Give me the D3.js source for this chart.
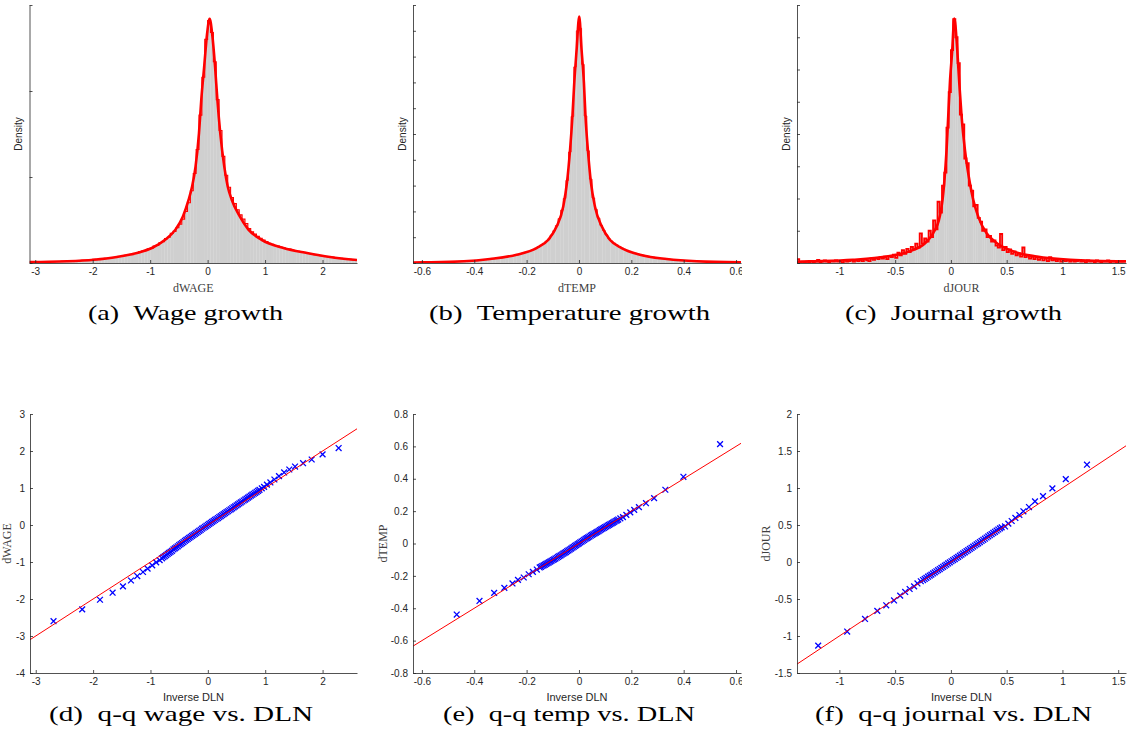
<!DOCTYPE html>
<html>
<head>
<meta charset="utf-8">
<script src="https://cdn.jsdelivr.net/npm/d3@7"></script>
<style>
body { margin: 0; background: #fff; }
.axis text { font-family: "Liberation Sans", Arial, sans-serif; font-size: 10px; fill: #262626; }
.axis path, .axis line { stroke: #262626; stroke-width: 0.8; }
</style>
</head>
<body>
<svg id="fig" width="1130" height="738"></svg>
<script>
// ---- histogram (a) wage growth, bins of 0.05 starting at -3.1
var histWageStart = -3.1, histWageBin = 0.05;
var histWage = [
  0.005, 0.006, 0.006, 0.007, 0.006, 0.007, 0.008, 0.007, 0.008, 0.009,
  0.009, 0.010, 0.010, 0.011, 0.011, 0.012, 0.013, 0.014, 0.015, 0.015,
  0.017, 0.018, 0.022, 0.020, 0.023, 0.024, 0.027, 0.027, 0.031, 0.032,
  0.036, 0.038, 0.043, 0.045, 0.049, 0.051, 0.056, 0.059, 0.066, 0.070,
  0.073, 0.083, 0.085, 0.099, 0.102, 0.118, 0.124, 0.142, 0.150, 0.172,
  0.184, 0.205, 0.225, 0.255, 0.30, 0.35, 0.42, 0.52, 0.66, 0.86,
  1.08, 1.30, 1.41, 1.34, 1.17, 0.95, 0.77, 0.62, 0.51, 0.44,
  0.38, 0.345, 0.31, 0.28, 0.255, 0.23, 0.20, 0.182, 0.168, 0.155,
  0.144, 0.133, 0.124, 0.115, 0.109, 0.102, 0.098, 0.092, 0.089, 0.084,
  0.081, 0.076, 0.073, 0.068, 0.066, 0.061, 0.059, 0.055, 0.051, 0.048,
  0.045, 0.043, 0.039, 0.038, 0.035, 0.034, 0.030, 0.029, 0.027, 0.026,
  0.023, 0.022, 0.019, 0.018
];
var fitWageX = [-3.1, -3.0, -2.45, -1.98, -1.58, -1.23, -0.97, -0.74, -0.56, -0.43, -0.33, -0.27, -0.21, -0.15, -0.11, -0.06,
  -0.01, 0.035, 0.08, 0.13, 0.17, 0.22, 0.29, 0.35, 0.42, 0.56, 0.71, 0.94, 1.32, 1.73, 2.13, 2.6];
var fitWageY = [0.005, 0.006, 0.010, 0.019, 0.035, 0.058, 0.087, 0.135, 0.194, 0.271, 0.368, 0.445, 0.56, 0.755, 0.95, 1.14,
  1.33, 1.42, 1.33, 1.14, 0.95, 0.755, 0.56, 0.445, 0.368, 0.271, 0.194, 0.135, 0.087, 0.058, 0.035, 0.017];

// ---- histogram (b) temperature growth, bins of 0.01 starting at -0.63
var histTempStart = -0.63, histTempBin = 0.01;
var histTemp = [
  0.022, 0.024, 0.025, 0.026, 0.028, 0.030, 0.032, 0.034, 0.036, 0.039,
  0.041, 0.044, 0.047, 0.050, 0.053, 0.057, 0.061, 0.065, 0.070, 0.076,
  0.082, 0.089, 0.096, 0.103, 0.110, 0.118, 0.126, 0.135, 0.145, 0.155,
  0.165, 0.178, 0.19, 0.205, 0.22, 0.24, 0.26, 0.28, 0.30, 0.32,
  0.35, 0.38, 0.41, 0.44, 0.48, 0.52, 0.57, 0.62, 0.69, 0.76,
  0.84, 0.93, 1.08, 1.25, 1.45, 1.72, 2.05, 2.5, 3.2, 4.3,
  5.68, 7.6, 9.0,
  9.1, 7.7, 5.7, 4.35, 3.25, 2.52, 2.08, 1.74, 1.46, 1.26,
  1.09, 0.94, 0.85, 0.77, 0.70, 0.63, 0.58, 0.53, 0.49, 0.45,
  0.41, 0.38, 0.35, 0.33, 0.30, 0.28, 0.26, 0.24, 0.225, 0.21,
  0.195, 0.18, 0.168, 0.157, 0.147, 0.137, 0.128, 0.12, 0.112, 0.104,
  0.097, 0.09, 0.084, 0.078, 0.072, 0.067, 0.062, 0.058, 0.054, 0.051,
  0.048, 0.045, 0.042, 0.04, 0.037, 0.035, 0.033, 0.031, 0.029, 0.027,
  0.026, 0.025
];
var fitTempX = [-0.634, -0.595, -0.44, -0.34, -0.238, -0.162, -0.117, -0.085, -0.06, -0.046, -0.034, -0.025, -0.018, -0.009,
  0.001, 0.010, 0.019, 0.025, 0.034, 0.046, 0.061, 0.087, 0.118, 0.163, 0.233, 0.335, 0.45, 0.619];
var fitTempY = [0.02, 0.026, 0.065, 0.155, 0.32, 0.58, 0.90, 1.42, 2.19, 3.10, 4.39, 5.68, 6.97, 8.26,
  9.55, 8.26, 6.97, 5.68, 4.39, 3.10, 2.19, 1.42, 0.90, 0.58, 0.32, 0.155, 0.065, 0.025];

// ---- histogram (c) journal growth, bins of 0.02 starting at -1.38
var histJourStart = -1.38, histJourBin = 0.02;
var histJour = [
  0.06, 0.01, 0.02, 0.00, 0.02, 0.01, 0.03, 0.01, 0.02, 0.05,
  0.01, 0.02, 0.04, 0.02, 0.01, 0.03, 0.02, 0.04, 0.02, 0.03,
  0.01, 0.04, 0.02, 0.03, 0.05, 0.02, 0.04, 0.03, 0.05, 0.03,
  0.06, 0.04, 0.03, 0.07, 0.05, 0.08, 0.06, 0.09, 0.07, 0.10,
  0.06, 0.11, 0.09, 0.13, 0.08, 0.16, 0.12, 0.20, 0.14, 0.22,
  0.17, 0.25, 0.21, 0.30, 0.24, 0.46, 0.30, 0.38, 0.33, 0.50,
  0.40, 0.66, 0.52, 0.95, 0.78, 1.20, 1.40, 2.10, 2.65, 3.30,
  3.78, 3.50, 3.10, 2.30, 2.15, 1.62, 1.55, 1.20, 1.12, 0.88,
  0.90, 0.70, 0.64, 0.50, 0.52, 0.40, 0.42, 0.33, 0.35, 0.27,
  0.24, 0.45, 0.20, 0.25, 0.17, 0.21, 0.14, 0.18, 0.12, 0.15,
  0.10, 0.24, 0.09, 0.12, 0.07, 0.10, 0.06, 0.09, 0.05, 0.08,
  0.04, 0.07, 0.03, 0.09, 0.04, 0.05, 0.03, 0.06, 0.02, 0.04,
  0.03, 0.05, 0.02, 0.04, 0.02, 0.03, 0.05, 0.02, 0.03, 0.01,
  0.04, 0.02, 0.03, 0.01, 0.04, 0.02, 0.01, 0.03, 0.02, 0.04,
  0.01, 0.03, 0.02, 0.01, 0.03, 0.02, 0.03
];
var fitJourX = [-1.38, -1.27, -0.88, -0.58, -0.37, -0.23, -0.16, -0.10, -0.075, -0.06, -0.039, -0.024, -0.009, 0.012,
  0.03, 0.057, 0.075, 0.096, 0.126, 0.17, 0.2, 0.245, 0.32, 0.41, 0.56, 0.77, 1.07, 1.57];
var fitJourY = [0.02, 0.026, 0.05, 0.10, 0.18, 0.31, 0.46, 0.72, 0.98, 1.24, 1.75, 2.27, 2.79, 3.30,
  3.79, 3.30, 2.79, 2.27, 1.75, 1.24, 0.98, 0.72, 0.46, 0.31, 0.18, 0.10, 0.05, 0.025];

// ---- q-q points [inverse DLN quantile, sample quantile]
var qqWage = [
  [-2.69, -2.60], [-2.19, -2.28], [-1.88, -2.02], [-1.66, -1.83], [-1.48, -1.66], [-1.34, -1.50], [-1.23, -1.38],
  [-1.13, -1.27], [-1.05, -1.18], [-0.97, -1.09], [-0.90, -1.01], [-0.84, -0.95],
  [-0.800, -0.900], [-0.775, -0.870], [-0.750, -0.843], [-0.725, -0.815], [-0.700, -0.780], [-0.675, -0.752],
  [-0.650, -0.725], [-0.625, -0.697], [-0.600, -0.660], [-0.575, -0.633], [-0.550, -0.605], [-0.525, -0.576],
  [-0.500, -0.545], [-0.475, -0.517], [-0.450, -0.489], [-0.425, -0.461], [-0.400, -0.430], [-0.375, -0.403],
  [-0.350, -0.376], [-0.325, -0.349], [-0.300, -0.320], [-0.275, -0.293], [-0.250, -0.266], [-0.225, -0.239],
  [-0.200, -0.210], [-0.175, -0.183], [-0.150, -0.156], [-0.125, -0.129], [-0.100, -0.100], [-0.075, -0.074],
  [-0.050, -0.049], [-0.025, -0.022], [0.000, 0.005], [0.025, 0.031], [0.050, 0.057], [0.075, 0.083],
  [0.100, 0.110], [0.125, 0.136], [0.150, 0.162], [0.175, 0.188], [0.200, 0.215], [0.225, 0.241],
  [0.250, 0.267], [0.275, 0.294], [0.300, 0.320], [0.325, 0.346], [0.350, 0.372], [0.375, 0.399],
  [0.400, 0.425], [0.425, 0.451], [0.450, 0.478], [0.475, 0.504], [0.500, 0.530], [0.525, 0.557],
  [0.550, 0.583], [0.575, 0.609], [0.600, 0.635], [0.625, 0.662], [0.650, 0.688], [0.675, 0.714],
  [0.700, 0.740], [0.725, 0.767], [0.750, 0.793], [0.775, 0.819], [0.800, 0.845], [0.825, 0.871],
  [0.850, 0.897], [0.875, 0.924], [0.900, 0.950],
  [0.94, 0.99], [0.98, 1.03], [1.03, 1.09], [1.09, 1.15], [1.16, 1.23], [1.24, 1.32], [1.33, 1.42],
  [1.42, 1.50], [1.52, 1.58], [1.66, 1.67], [1.81, 1.77], [2.00, 1.91], [2.28, 2.08]
];
var qqTemp = [
  [-0.467, -0.439], [-0.380, -0.355], [-0.324, -0.305], [-0.285, -0.274], [-0.254, -0.247], [-0.233, -0.225],
  [-0.211, -0.210], [-0.192, -0.190], [-0.176, -0.175], [-0.161, -0.161],
  [-0.150, -0.148], [-0.145, -0.144], [-0.140, -0.139], [-0.135, -0.135], [-0.130, -0.131], [-0.125, -0.126],
  [-0.120, -0.121], [-0.115, -0.117], [-0.110, -0.112], [-0.105, -0.107], [-0.100, -0.102], [-0.095, -0.098],
  [-0.090, -0.093], [-0.085, -0.088], [-0.080, -0.083], [-0.075, -0.078], [-0.070, -0.073], [-0.065, -0.068],
  [-0.060, -0.063], [-0.055, -0.058], [-0.050, -0.053], [-0.045, -0.047], [-0.040, -0.042], [-0.035, -0.037],
  [-0.030, -0.032], [-0.025, -0.026], [-0.020, -0.021], [-0.015, -0.015], [-0.010, -0.010], [-0.005, -0.004],
  [0.000, 0.001], [0.005, 0.007], [0.010, 0.012], [0.015, 0.017], [0.020, 0.022], [0.025, 0.028],
  [0.030, 0.033], [0.035, 0.038], [0.040, 0.043], [0.045, 0.048], [0.050, 0.053], [0.055, 0.058],
  [0.060, 0.063], [0.065, 0.067], [0.070, 0.072], [0.075, 0.077], [0.080, 0.082], [0.085, 0.087],
  [0.090, 0.092], [0.095, 0.096], [0.100, 0.101], [0.105, 0.106], [0.110, 0.111], [0.115, 0.115],
  [0.120, 0.120], [0.125, 0.124], [0.130, 0.129], [0.135, 0.134], [0.140, 0.139], [0.145, 0.143],
  [0.150, 0.148], [0.158, 0.155],
  [0.168, 0.163], [0.181, 0.177], [0.196, 0.192], [0.211, 0.208], [0.229, 0.225], [0.256, 0.249], [0.287, 0.280],
  [0.330, 0.332], [0.399, 0.412], [0.539, 0.614]
];
var qqJour = [
  [-1.19, -1.13], [-0.93, -0.94], [-0.77, -0.77], [-0.66, -0.66], [-0.58, -0.585], [-0.51, -0.52], [-0.455, -0.455],
  [-0.41, -0.405], [-0.37, -0.365], [-0.33, -0.33], [-0.30, -0.29], [-0.27, -0.26],
  [-0.250, -0.244], [-0.235, -0.229], [-0.220, -0.214], [-0.205, -0.199], [-0.190, -0.184], [-0.175, -0.170],
  [-0.160, -0.155], [-0.145, -0.140], [-0.130, -0.125], [-0.115, -0.110], [-0.100, -0.095], [-0.085, -0.080],
  [-0.070, -0.065], [-0.055, -0.050], [-0.040, -0.035], [-0.025, -0.020], [-0.010, -0.005], [0.005, 0.010],
  [0.020, 0.025], [0.035, 0.040], [0.050, 0.055], [0.065, 0.070], [0.080, 0.086], [0.095, 0.101],
  [0.110, 0.116], [0.125, 0.131], [0.140, 0.146], [0.155, 0.161], [0.170, 0.177], [0.185, 0.192],
  [0.200, 0.207], [0.215, 0.223], [0.230, 0.238], [0.245, 0.253], [0.260, 0.269], [0.275, 0.284],
  [0.290, 0.300], [0.305, 0.315], [0.320, 0.331], [0.335, 0.346], [0.350, 0.362], [0.365, 0.377],
  [0.380, 0.393], [0.395, 0.408], [0.410, 0.424], [0.425, 0.439], [0.440, 0.455], [0.455, 0.468],
  [0.485, 0.48], [0.515, 0.518], [0.545, 0.554], [0.578, 0.595], [0.614, 0.635], [0.65, 0.685], [0.70, 0.743],
  [0.754, 0.82], [0.826, 0.89], [0.91, 0.995], [1.03, 1.12], [1.22, 1.315]
];

// ---- axis ranges and ticks
var wageRange = [-3.1, 2.6], tempRange = [-0.634, 0.619], jourRange = [-1.38, 1.57];
var wageTicks = [-3, -2, -1, 0, 1, 2];
var tempTicks = [-0.6, -0.4, -0.2, 0, 0.2, 0.4, 0.6];
var jourTicks = [-1, -0.5, 0, 0.5, 1, 1.5];
var qqWageYTicks = [-4, -3, -2, -1, 0, 1, 2, 3];
var qqTempYTicks = [-0.8, -0.6, -0.4, -0.2, 0, 0.2, 0.4, 0.6, 0.8];
var qqJourYTicks = [-1.5, -1, -0.5, 0, 0.5, 1, 1.5, 2];

var svg = d3.select("#fig");
var defs = svg.append("defs");

// each sub-figure is a cropped image in the original, so clip its content
var colClip = [[0, 372], [372, 742], [752, 1130]];
colClip.forEach(function(c, i) {
    defs.append("clipPath").attr("id", "col" + i)
        .append("rect").attr("x", c[0]).attr("y", 0).attr("width", c[1] - c[0]).attr("height", 738);
});

function addClip(id, b) {
    defs.append("clipPath").attr("id", id)
        .append("rect")
        .attr("x", b.left).attr("y", b.top)
        .attr("width", b.right - b.left).attr("height", b.bottom - b.top);
}

function fmt(d) { return String(d); }

function drawAxes(g, b, x, y, xTicks, yTicks, showY) {
    g.append("g")
        .attr("class", "axis")
        .attr("transform", "translate(0," + b.bottom + ")")
        .call(d3.axisBottom(x).tickValues(xTicks).tickSizeInner(-3).tickSizeOuter(0).tickPadding(5).tickFormat(fmt));
    g.append("g")
        .attr("class", "axis")
        .attr("transform", "translate(" + b.left + ",0)")
        .call(d3.axisLeft(y).tickValues(yTicks).tickSizeInner(-3).tickSizeOuter(0).tickPadding(5)
            .tickFormat(showY ? fmt : function() { return ""; }));
}

function caption(text, cx, cy, w) {
    svg.append("text")
        .attr("x", cx).attr("y", cy)
        .attr("text-anchor", "middle")
        .attr("textLength", w)
        .attr("lengthAdjust", "spacingAndGlyphs")
        .style("font-family", "'Liberation Serif', 'Times New Roman', serif")
        .style("font-size", "22px")
        .style("fill", "#000")
        .text(text);
}

function drawHist(p) {
    var b = p.box;
    var x = d3.scaleLinear().domain(p.xDomain).range([b.left, b.right]);
    var y = d3.scaleLinear().domain(p.yDomain).range([b.bottom, b.top]);
    addClip(p.id, b);
    var g = svg.append("g").attr("clip-path", "url(#col" + p.col + ")");
    var plot = g.append("g").attr("clip-path", "url(#" + p.id + ")");
    var bw = x(p.start + p.bin) - x(p.start);

    plot.selectAll("rect.bar")
        .data(p.heights)
        .join("rect")
        .attr("class", "bar")
        .attr("x", function(d, i) { return x(p.start + i * p.bin); })
        .attr("width", bw + 0.2)
        .attr("y", function(d) { return y(d); })
        .attr("height", function(d) { return b.bottom - y(d); })
        .attr("fill", "#cfcfcf");

    var steps = p.heights.map(function(h, i) { return [p.start + i * p.bin, h]; });
    steps.push([p.start + p.heights.length * p.bin, p.heights[p.heights.length - 1]]);
    plot.append("path")
        .datum(steps)
        .attr("fill", "none")
        .attr("stroke", "#ff0000")
        .attr("stroke-width", p.stepWidth)
        .attr("d", d3.line().curve(d3.curveStepAfter)
            .x(function(d) { return x(d[0]); })
            .y(function(d) { return y(d[1]); }));

    var fit = p.fitX.map(function(v, i) { return [v, p.fitY[i]]; });
    plot.append("path")
        .datum(fit)
        .attr("fill", "none")
        .attr("stroke", "#ff0000")
        .attr("stroke-width", 2.6)
        .attr("stroke-linejoin", "round")
        .attr("d", d3.line().curve(d3.curveMonotoneX)
            .x(function(d) { return x(d[0]); })
            .y(function(d) { return y(d[1]); }));

    drawAxes(g, b, x, y, p.xTicks, p.yTicks, false);

    g.append("text")
        .attr("x", (b.left + b.right) / 2).attr("y", b.bottom + 29)
        .attr("text-anchor", "middle")
        .style("font-family", "'Liberation Serif', serif")
        .style("font-size", "12px")
        .style("fill", "#404040")
        .text(p.xLabel);
    g.append("text")
        .attr("transform", "translate(" + (b.left - 7.5) + "," + ((b.top + b.bottom) / 2) + ") rotate(-90)")
        .attr("text-anchor", "middle")
        .style("font-family", "'Liberation Sans', Arial, sans-serif")
        .style("font-size", "10px")
        .style("fill", "#262626")
        .text("Density");
}

function drawQQ(p) {
    var b = p.box;
    var x = d3.scaleLinear().domain(p.xDomain).range([b.left, b.right]);
    var y = d3.scaleLinear().domain(p.yDomain).range([b.bottom, b.top]);
    addClip(p.id, b);
    var g = svg.append("g").attr("clip-path", "url(#col" + p.col + ")");
    var plot = g.append("g").attr("clip-path", "url(#" + p.id + ")");

    plot.selectAll("path.mk")
        .data(p.points)
        .join("path")
        .attr("class", "mk")
        .attr("transform", function(d) { return "translate(" + x(d[0]) + "," + y(d[1]) + ")"; })
        .attr("d", "M-2.9,-2.9L2.9,2.9M-2.9,2.9L2.9,-2.9")
        .attr("stroke", "#0000ff")
        .attr("stroke-width", 1.3);

    // reference line y = x across the x range
    plot.append("line")
        .attr("x1", x(p.xDomain[0])).attr("y1", y(p.xDomain[0]))
        .attr("x2", x(p.xDomain[1])).attr("y2", y(p.xDomain[1]))
        .attr("stroke", "#ff0000")
        .attr("stroke-width", 1);

    drawAxes(g, b, x, y, p.xTicks, p.yTicks, true);

    g.append("text")
        .attr("x", (b.left + b.right) / 2).attr("y", b.bottom + 28)
        .attr("text-anchor", "middle")
        .style("font-family", "'Liberation Sans', Arial, sans-serif")
        .style("font-size", "11px")
        .style("fill", "#262626")
        .text("Inverse DLN");
    g.append("text")
        .attr("transform", "translate(" + (b.left - p.yLabelOff) + "," + ((b.top + b.bottom) / 2) + ") rotate(-90)")
        .attr("text-anchor", "middle")
        .style("font-family", "'Liberation Serif', serif")
        .style("font-size", "12px")
        .style("fill", "#404040")
        .text(p.yLabel);
}

var colL = [29.5, 413, 797], colR = [357, 741, 1126];

drawHist({ id: "ca", col: 0, box: { left: colL[0], right: colR[0], top: 5, bottom: 263 },
    heights: histWage, start: histWageStart, bin: histWageBin, fitX: fitWageX, fitY: fitWageY,
    xDomain: wageRange, yDomain: [0, 1.5], xTicks: wageTicks, yTicks: [0, 0.5, 1, 1.5],
    stepWidth: 1.1, xLabel: "dWAGE" });
drawHist({ id: "cb", col: 1, box: { left: colL[1], right: colR[1], top: 5, bottom: 263 },
    heights: histTemp, start: histTempStart, bin: histTempBin, fitX: fitTempX, fitY: fitTempY,
    xDomain: tempRange, yDomain: [0, 10], xTicks: tempTicks, yTicks: d3.range(0, 11),
    stepWidth: 0.8, xLabel: "dTEMP" });
drawHist({ id: "cc", col: 2, box: { left: colL[2], right: colR[2], top: 5, bottom: 263 },
    heights: histJour, start: histJourStart, bin: histJourBin, fitX: fitJourX, fitY: fitJourY,
    xDomain: jourRange, yDomain: [0, 4], xTicks: jourTicks, yTicks: d3.range(0, 4.01, 0.5),
    stepWidth: 1.8, xLabel: "dJOUR" });

drawQQ({ id: "cd", col: 0, box: { left: colL[0] + 0.5, right: colR[0], top: 414, bottom: 673 },
    points: qqWage, xDomain: wageRange, yDomain: [-4, 3], xTicks: wageTicks, yTicks: qqWageYTicks,
    yLabel: "dWAGE", yLabelOff: 19.5 });
drawQQ({ id: "ce", col: 1, box: { left: colL[1], right: colR[1], top: 414, bottom: 673 },
    points: qqTemp, xDomain: tempRange, yDomain: [-0.8, 0.8], xTicks: tempTicks, yTicks: qqTempYTicks,
    yLabel: "dTEMP", yLabelOff: 26 });
drawQQ({ id: "cf", col: 2, box: { left: colL[2], right: colR[2], top: 414, bottom: 673 },
    points: qqJour, xDomain: jourRange, yDomain: [-1.5, 2], xTicks: jourTicks, yTicks: qqJourYTicks,
    yLabel: "dJOUR", yLabelOff: 27 });

caption("(a)\u00a0\u00a0Wage growth", 185.5, 320, 195);
caption("(b)\u00a0\u00a0Temperature growth", 569.5, 320, 281);
caption("(c)\u00a0\u00a0Journal growth", 953.5, 320, 217);
caption("(d)\u00a0\u00a0q-q wage vs. DLN", 181, 721, 264);
caption("(e)\u00a0\u00a0q-q temp vs. DLN", 569, 721, 252);
caption("(f)\u00a0\u00a0q-q journal vs. DLN", 953.5, 721, 277);
</script>
</body>
</html>
